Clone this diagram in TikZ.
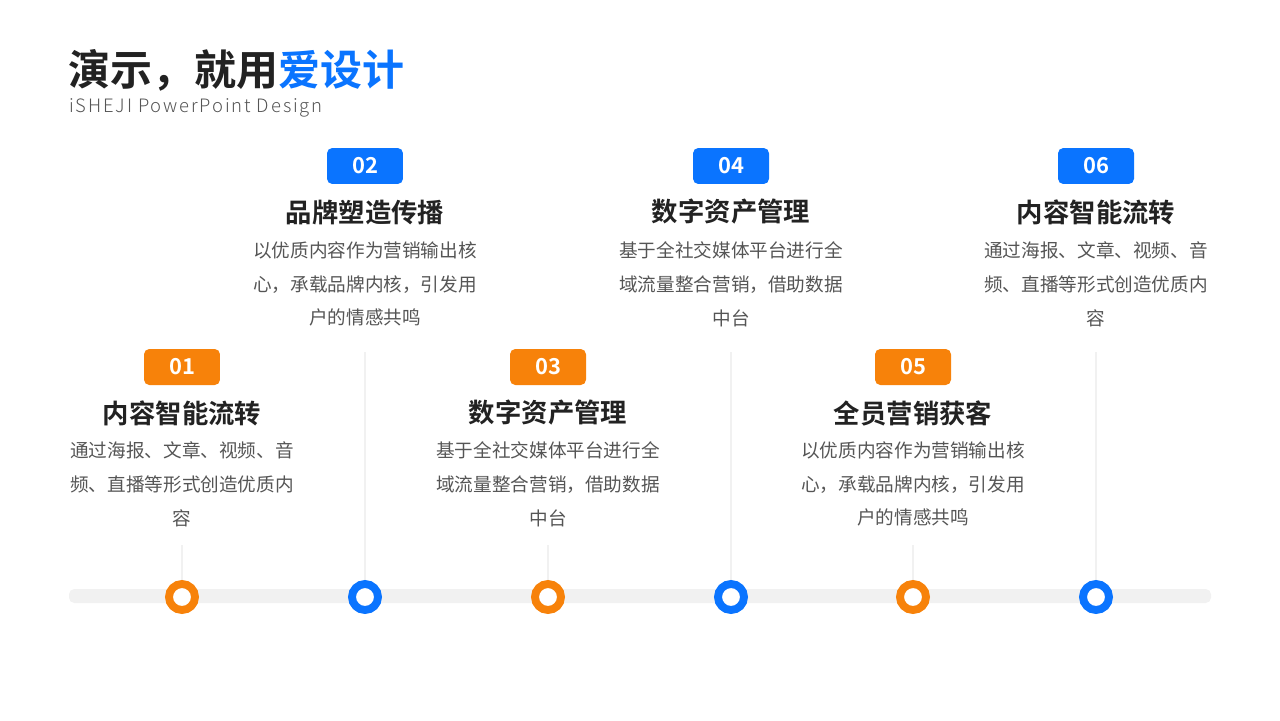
\documentclass[tikz,border=0pt]{standalone}
\usepackage{fontspec}
\setmainfont{Noto Sans CJK SC}
\newfontfamily\cjkbold{Noto Sans CJK SC Bold}
\newfontfamily\cjklight{Noto Sans CJK SC Light}
\usetikzlibrary{positioning}
\definecolor{brandblue}{HTML}{0A74FF}
\definecolor{brandorange}{HTML}{F7820A}
\definecolor{darktext}{HTML}{222222}
\definecolor{bodytext}{HTML}{555555}
\definecolor{trackgray}{HTML}{F1F1F1}

\begin{document}
\begin{tikzpicture}[x=0.02cm, y=-0.02cm,
  badge/.style={rectangle, rounded corners=3pt, minimum width=1.52cm, minimum height=0.72cm, inner sep=0pt, text=white, font=\fontsize{12.5}{14}\cjkbold},
  heading/.style={font=\fontsize{15}{17}\cjkbold, text=darktext, inner sep=0pt},
  bodytxt/.style={align=center, font=\fontsize{10.6}{19.3}\selectfont, text=bodytext, inner sep=0pt},
  stem/.style={draw=trackgray, line width=1.2pt},
  ring/.style={circle, line width=4.5pt, fill=white, minimum size=0.52cm, inner sep=0pt}
]
  \useasboundingbox (0,0) rectangle (1280,720);

  % Title
  \node[anchor=west, inner sep=0pt, font=\fontsize{23.9}{27}\cjkbold, text=darktext] (title) at (68,70) {演示，就用\textcolor{brandblue}{爱设计}};
  \node[anchor=west, inner sep=0pt, font=\fontsize{10.5}{12}\cjklight, text=bodytext] (subtitle) at (69,108) {\addfontfeatures{LetterSpace=10}iSHEJI PowerPoint Design};

  % Track
  \fill[trackgray, rounded corners=3pt] (69,589) rectangle (1211,603);

  % Lower items
  \foreach \n/\x/\head/\body in {
    01/182/内容智能流转/{通过海报、文章、视频、音\\频、直播等形式创造优质内\\容},
    03/548/数字资产管理/{基于全社交媒体平台进行全\\域流量整合营销，借助数据\\中台},
    05/913/全员营销获客/{以优质内容作为营销输出核\\心，承载品牌内核，引发用\\户的情感共鸣}} {
    \draw[stem] (\x,545) -- (\x,580);
    \node[badge, fill=brandorange] (badge\n) at (\x,367) {\n};
    \node[heading] (head\n) at (\x,413) {\head};
    \node[bodytxt, anchor=north] (body\n) at (\x,441) {\body};
    \node[ring, draw=brandorange] (dot\n) at (\x,597) {};
  }

  % Upper items
  \foreach \n/\x/\head/\body in {
    02/365/品牌塑造传播/{以优质内容作为营销输出核\\心，承载品牌内核，引发用\\户的情感共鸣},
    04/731/数字资产管理/{基于全社交媒体平台进行全\\域流量整合营销，借助数据\\中台},
    06/1096/内容智能流转/{通过海报、文章、视频、音\\频、直播等形式创造优质内\\容}} {
    \draw[stem] (\x,352) -- (\x,580);
    \node[badge, fill=brandblue] (badge\n) at (\x,166) {\n};
    \node[heading] (head\n) at (\x,212) {\head};
    \node[bodytxt, anchor=north] (body\n) at (\x,241) {\body};
    \node[ring, draw=brandblue] (dot\n) at (\x,597) {};
  }
\end{tikzpicture}
\end{document}
